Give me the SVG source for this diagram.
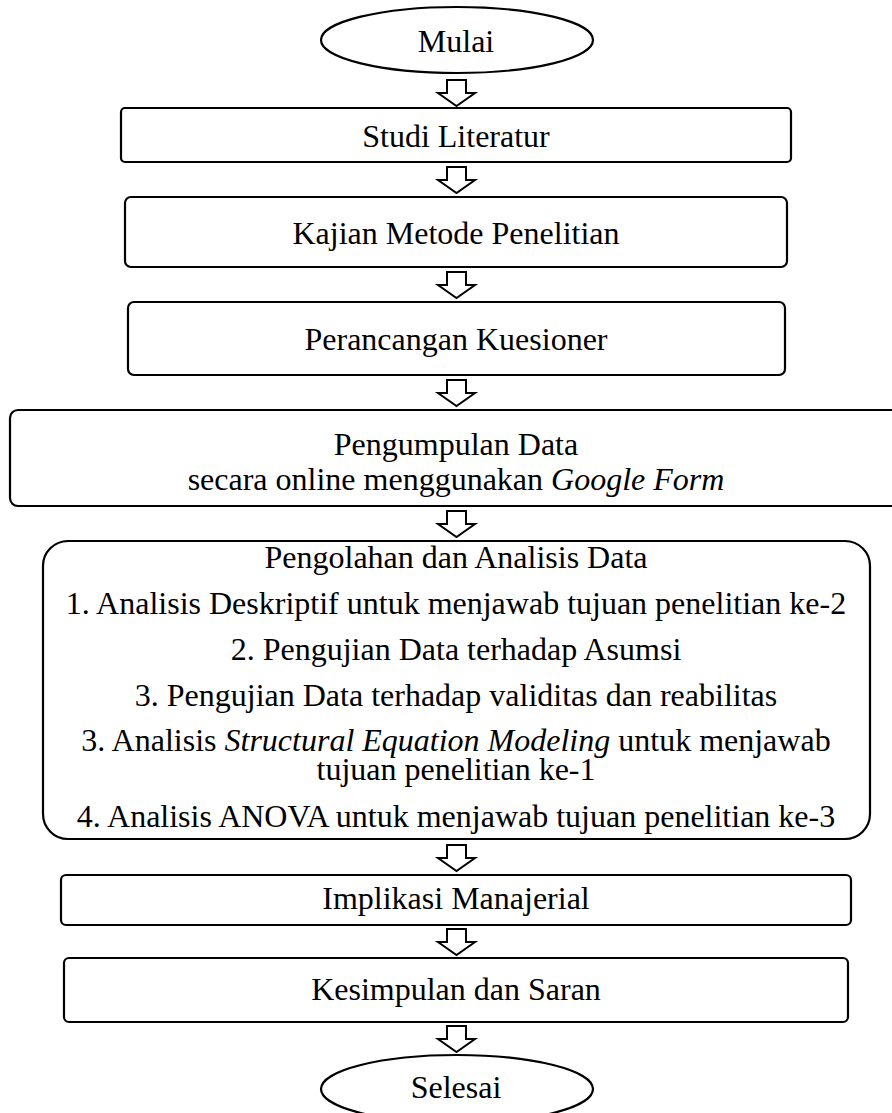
<svg xmlns="http://www.w3.org/2000/svg" width="892" height="1113" viewBox="0 0 892 1113">
  <defs>
    <style>
      .box { fill: #ffffff; stroke: #000000; stroke-width: 2.2; }
      .arrow { fill: #ffffff; stroke: #000000; stroke-width: 2; stroke-linejoin: miter; }
      text { font-family: "Liberation Serif", "Times New Roman", serif; font-size: 32px; fill: #000000; text-anchor: middle; }
      .it { font-style: italic; }
    </style>
    <!-- hollow block arrow pointing down, top at y=0, tip at y=26 -->
    <path id="down" class="arrow" d="M447,0 L466,0 L466,13 L475,13 L456.5,26 L438,13 L447,13 Z"/>
  </defs>
  <rect width="892" height="1113" fill="#ffffff"/>

  <g id="connectors">
    <use href="#down" y="80"/>
    <use href="#down" y="167"/>
    <use href="#down" y="272"/>
    <use href="#down" y="380"/>
    <use href="#down" y="511"/>
    <use href="#down" y="845"/>
    <use href="#down" y="929"/>
    <use href="#down" y="1026"/>
  </g>

  <g id="mulai">
    <ellipse class="box" cx="457" cy="40" rx="136" ry="33"/>
    <text x="456" y="52">Mulai</text>
  </g>

  <g id="studi-literatur">
    <rect class="box" x="121" y="108" width="670" height="54" rx="4"/>
    <text x="456" y="147">Studi Literatur</text>
  </g>

  <g id="kajian-metode">
    <rect class="box" x="125" y="197" width="662" height="70" rx="6"/>
    <text x="456" y="244">Kajian Metode Penelitian</text>
  </g>

  <g id="perancangan-kuesioner">
    <rect class="box" x="128" y="302" width="657" height="73" rx="6"/>
    <text x="456" y="350">Perancangan Kuesioner</text>
  </g>

  <g id="pengumpulan-data">
    <rect class="box" x="10" y="410" width="892" height="96" rx="8"/>
    <text x="456" y="455">Pengumpulan Data</text>
    <text x="456" y="490">secara online menggunakan <tspan class="it">Google Form</tspan></text>
  </g>

  <g id="pengolahan-analisis">
    <rect class="box" x="43" y="541" width="827" height="298" rx="25"/>
    <text x="456" y="568">Pengolahan dan Analisis Data</text>
    <text x="456" y="614">1. Analisis Deskriptif untuk menjawab tujuan penelitian ke-2</text>
    <text x="456" y="660">2. Pengujian Data terhadap Asumsi</text>
    <text x="456" y="706">3. Pengujian Data terhadap validitas dan reabilitas</text>
    <text x="456" y="751">3. Analisis <tspan class="it">Structural Equation Modeling</tspan> untuk menjawab</text>
    <text x="456" y="780">tujuan penelitian ke-1</text>
    <text x="456" y="827">4. Analisis ANOVA untuk menjawab tujuan penelitian ke-3</text>
  </g>

  <g id="implikasi-manajerial">
    <rect class="box" x="61" y="875" width="790" height="50" rx="5"/>
    <text x="456" y="909">Implikasi Manajerial</text>
  </g>

  <g id="kesimpulan-saran">
    <rect class="box" x="64" y="958" width="784" height="64" rx="5"/>
    <text x="456" y="1000">Kesimpulan dan Saran</text>
  </g>

  <g id="selesai">
    <ellipse class="box" cx="457" cy="1089" rx="136" ry="34"/>
    <text x="456" y="1098">Selesai</text>
  </g>
</svg>
